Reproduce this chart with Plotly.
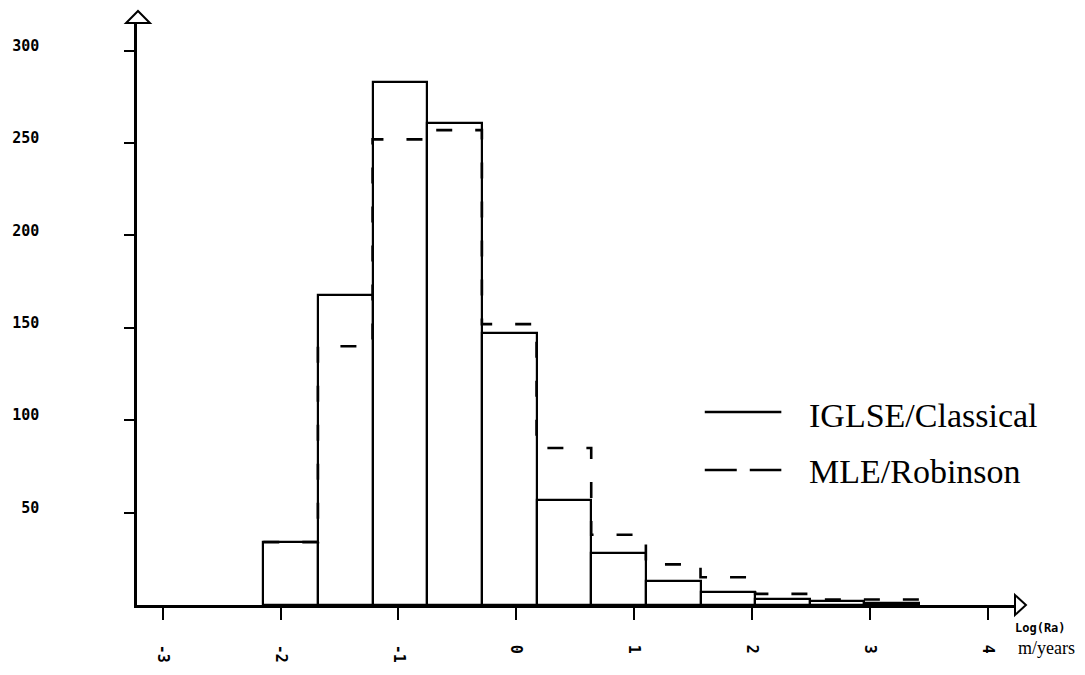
import numpy as np
import plotly.graph_objects as go

# ---- data ----
BIN_START = -2.146          # left edge of first bin (log Ra units)
BIN_WIDTH = 0.4635          # bin width
iglse_classical = [34, 168, 283, 261, 147, 57, 28, 13, 7, 3, 2, 1]
mle_robinson = [34, 140, 252, 257, 152, 85, 38, 22, 15, 6, 3, 3]
x_tick_vals = [-3, -2, -1, 0, 1, 2, 3, 4]
x_tick_text = ["-3", "-2", "-1", "0", "1", "2", "3", "4"]
y_tick_vals = [50, 100, 150, 200, 250, 300]
legend_names = ["IGLSE/Classical", "MLE/Robinson"]

n = len(iglse_classical)
edges = BIN_START + BIN_WIDTH * np.arange(n + 1)
centers = (edges[:-1] + edges[1:]) / 2

# ---- layout geometry (pixels) ----
W, H = 1085, 675
ML, MR, MT, MB = 132, 70, 22, 70
X_RANGE = [-3.217, 4.229]
Y_RANGE = [0, 315.5]
PW, PH = W - ML - MR, H - MT - MB


def px(xp):
    return (xp - ML) / PW


def py(yp):
    return (H - MB - yp) / PH


fig = go.Figure()

fig.add_trace(go.Bar(
    x=centers, y=iglse_classical, width=BIN_WIDTH,
    marker=dict(color="white", line=dict(color="black", width=2.2)),
    showlegend=False, hoverinfo="skip"))

fig.add_trace(go.Scatter(
    x=edges, y=list(mle_robinson) + [mle_robinson[-1]],
    mode="lines", line=dict(shape="hv", color="black", width=2.6, dash="16px,23px"),
    showlegend=False, hoverinfo="skip", cliponaxis=False))

tick_font = dict(family="DejaVu Sans Mono", size=15, color="black", weight="bold")

fig.update_layout(
    width=W, height=H,
    margin=dict(l=ML, r=MR, t=MT, b=MB, pad=0),
    paper_bgcolor="white", plot_bgcolor="white",
    bargap=0,
    xaxis=dict(range=X_RANGE, showgrid=False, zeroline=False,
               showline=True, linecolor="black", linewidth=2.5,
               tickvals=x_tick_vals, ticktext=x_tick_text,
               ticks="outside", ticklen=12, tickwidth=2, tickcolor="black",
               tickangle=90, tickfont=tick_font, ticklabelstandoff=22),
    yaxis=dict(range=Y_RANGE, showgrid=False, zeroline=False,
               showline=True, linecolor="black", linewidth=2.5,
               tickvals=y_tick_vals,
               ticks="outside", ticklen=10, tickwidth=2, tickcolor="black",
               tickfont=tick_font, ticklabelstandoff=82, ticklabelshift=-5),
    showlegend=False,
)


def tri_path(pts):
    s = "M {} {}".format(px(pts[0][0]), py(pts[0][1]))
    for xx, yy in pts[1:]:
        s += " L {} {}".format(px(xx), py(yy))
    return s + " Z"


# axis arrowheads (open triangles at the axis ends)
fig.add_shape(type="path", xref="paper", yref="paper",
              path=tri_path([(121, 23), (145, 23), (133, 11)]),
              fillcolor="white", line=dict(color="black", width=2))
fig.add_shape(type="path", xref="paper", yref="paper",
              path=tri_path([(1015, 595), (1015, 615), (1026, 605)]),
              fillcolor="white", line=dict(color="black", width=2))

# legend drawn as line samples + serif text
serif = dict(family="Liberation Serif", size=34, color="black")
fig.add_shape(type="line", xref="paper", yref="paper",
              x0=px(703), x1=px(780), y0=py(412), y1=py(412),
              line=dict(color="black", width=2.6))
fig.add_shape(type="line", xref="paper", yref="paper",
              x0=px(703), x1=px(780), y0=py(470), y1=py(470),
              line=dict(color="black", width=2.6, dash="32px,13px"))
fig.add_annotation(xref="paper", yref="paper", x=px(806), y=py(415),
                   text=legend_names[0], showarrow=False, xanchor="left",
                   yanchor="middle", font=serif)
fig.add_annotation(xref="paper", yref="paper", x=px(806), y=py(471),
                   text=legend_names[1], showarrow=False, xanchor="left",
                   yanchor="middle", font=serif)

# axis title at the arrow end
fig.add_annotation(xref="paper", yref="paper", x=px(1013), y=py(628),
                   text="Log(Ra)", showarrow=False, xanchor="left",
                   yanchor="middle",
                   font=dict(family="DejaVu Sans Mono", size=12, color="black",
                             weight="bold"))
fig.add_annotation(xref="paper", yref="paper", x=px(1016), y=py(648),
                   text="m/years", showarrow=False, xanchor="left",
                   yanchor="middle",
                   font=dict(family="Liberation Serif", size=18, color="black"))

fig.write_html("out.html")
